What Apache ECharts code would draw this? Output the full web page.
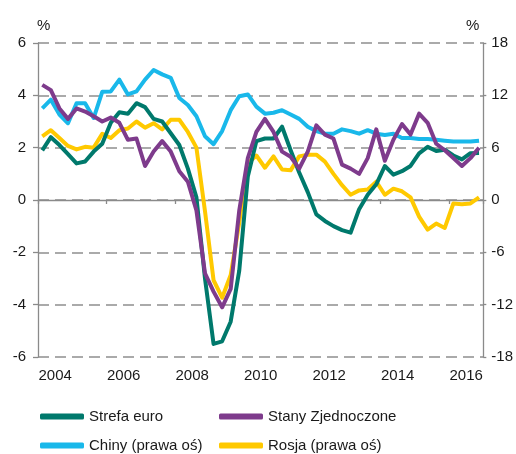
<!DOCTYPE html>
<html>
<head>
<meta charset="utf-8">
<script src="https://cdn.jsdelivr.net/npm/echarts@6/dist/echarts.min.js"></script>
<style>
    html,body{margin:0;padding:0;background:#fff;}
    #chart{width:516px;height:454px;}
</style>
</head>
<body>
<div id="chart"></div>
<script>
// lata na osi X
let years = ['2004','2005','2006','2007','2008','2009','2010','2011','2012','2013','2014','2015','2016']

// PKB r/r, dane kwartalne 2004Q1 - 2016Q4
let strefa_euro = [1.9,2.4,2.1,1.75,1.4,1.47,1.85,2.15,2.95,3.35,3.3,3.7,3.55,3.1,3.0,2.55,2.1,1.2,0.1,-3.0,-5.5,-5.4,-4.65,-2.7,0.9,2.25,2.35,2.35,2.8,1.9,1.05,0.3,-0.55,-0.8,-1.0,-1.15,-1.25,-0.35,0.2,0.6,1.3,0.97,1.1,1.3,1.78,2.03,1.87,1.92,1.7,1.55,1.79,1.8]
let usa = [4.4,4.2,3.5,3.1,3.5,3.38,3.2,3.0,3.15,2.95,2.3,2.35,1.3,1.85,2.25,1.85,1.1,0.7,-0.4,-2.8,-3.5,-4.1,-3.4,-0.4,1.6,2.6,3.1,2.6,1.85,1.65,1.2,1.85,2.85,2.5,2.35,1.35,1.2,1.0,1.6,2.7,1.5,2.3,2.9,2.5,3.3,2.95,2.15,1.9,1.6,1.3,1.6,2.0]
// prawa oś
let chiny = [10.5,11.5,9.8,8.8,11.1,11.1,9.4,12.4,12.45,13.8,12.1,12.45,13.8,14.9,14.4,14.0,11.7,10.9,9.6,7.3,6.4,7.9,10.3,11.9,12.1,10.7,9.9,10.0,10.3,9.8,9.3,8.4,7.9,7.6,7.6,8.1,7.9,7.6,8.0,7.6,7.45,7.6,7.1,7.1,7.0,7.0,6.9,6.8,6.7,6.7,6.7,6.8]
let rosja = [7.3,8.0,7.1,6.2,5.8,6.1,6.0,7.6,7.1,8.0,8.2,9.0,8.3,8.8,8.1,9.2,9.2,7.8,6.0,-1.3,-9.2,-11.2,-8.6,-2.6,4.2,5.1,3.7,5.0,3.5,3.4,5.0,5.2,5.2,4.4,3.0,1.7,0.6,1.1,1.2,2.1,0.6,1.3,1.0,0.3,-1.9,-3.4,-2.7,-3.2,-0.4,-0.5,-0.4,0.3]

let left_ticks = [-6,-4,-2,0,2,4,6]
let right_ticks = [-18,-12,-6,0,6,12,18]

let colors = {
    euro:'#00796c',
    usa:'#7e3b8c',
    chiny:'#19b8ea',
    rosja:'#ffc900'
}

// kwartał -> pozycja na osi czasu (środek kwartału)
function to_points(arr){
    let res = []
    for(let i = 0; i < arr.length; i++){
        let y = parseInt(years[0]) + Math.floor(i/4)
        let q = i % 4
        res.push([y + (q + 0.5)/4, arr[i]])
    }
    return res
}

let font = {fontFamily:'"Liberation Sans", Arial, sans-serif', fontSize:15, color:'#1a1a1a'}
let axis_color = '#8a8a8a'

function line(name, arr, color, y_idx){
    return {
        name: name,
        type: 'line',
        xAxisIndex: 0,
        yAxisIndex: y_idx,
        showSymbol: false,
        symbol: 'none',
        data: to_points(arr),
        lineStyle: {color: color, width: 4, join: 'round'},
        itemStyle: {color: color},
        z: 3
    }
}

// legenda - każda pozycja osobno
function legend_item(name, left, top){
    return {
        left: left,
        top: top,
        padding: 0,
        itemWidth: 44,
        itemHeight: 6,
        icon: 'roundRect',
        textStyle: font,
        data: [name]
    }
}

var mychart = echarts.init(document.getElementById('chart'), null, {renderer:'canvas'})
mychart.setOption({
    animation: false,
    textStyle: font,
    grid: {left: 38, right: 30, top: 43, bottom: 97},
    xAxis: [
        {
            // oś danych, linia na zerze
            type: 'value',
            min: 2004,
            max: 2017,
            interval: 2,
            axisLine: {show: true, onZero: true, lineStyle: {color: axis_color, width: 1.3}},
            axisTick: {show: true, length: 4, lineStyle: {color: axis_color, width: 1.3}},
            axisLabel: {show: false},
            splitLine: {show: false}
        },
        {
            // etykiety lat
            type: 'category',
            data: years,
            position: 'bottom',
            boundaryGap: true,
            axisLine: {show: false, onZero: false},
            axisTick: {show: false},
            axisLabel: {interval: 1, margin: 11, ...font},
            splitLine: {show: false}
        }
    ],
    yAxis: [
        {
            type: 'value',
            min: left_ticks[0],
            max: left_ticks[left_ticks.length-1],
            interval: 2,
            name: '%',
            nameLocation: 'end',
            nameGap: 10,
            nameTextStyle: {...font, align: 'left', padding: [0,0,0,-1]},
            axisLine: {show: true, onZero: false, lineStyle: {color: axis_color, width: 1.3}},
            axisTick: {show: true, length: 5, lineStyle: {color: axis_color, width: 1.3}},
            axisLabel: {margin: 12, ...font},
            splitLine: {show: true, lineStyle: {color: '#8f8f8f', width: 1.5, type: [11, 6]}}
        },
        {
            type: 'value',
            min: right_ticks[0],
            max: right_ticks[right_ticks.length-1],
            interval: 6,
            name: '%',
            nameLocation: 'end',
            nameGap: 10,
            nameTextStyle: {...font, align: 'right', padding: [0,4,0,0]},
            axisLine: {show: true, onZero: false, lineStyle: {color: axis_color, width: 1.3}},
            axisTick: {show: true, length: 3, lineStyle: {color: axis_color, width: 1.3}},
            axisLabel: {margin: 8, ...font},
            splitLine: {show: false}
        }
    ],
    legend: [
        legend_item('Strefa euro', 40, 409),
        legend_item('Stany Zjednoczone', 219, 409),
        legend_item('Chiny (prawa oś)', 40, 438),
        legend_item('Rosja (prawa oś)', 219, 438)
    ],
    series: [
        line('Chiny (prawa oś)', chiny, colors.chiny, 1),
        line('Rosja (prawa oś)', rosja, colors.rosja, 1),
        line('Strefa euro', strefa_euro, colors.euro, 0),
        line('Stany Zjednoczone', usa, colors.usa, 0)
    ]
})
</script>
</body>
</html>
